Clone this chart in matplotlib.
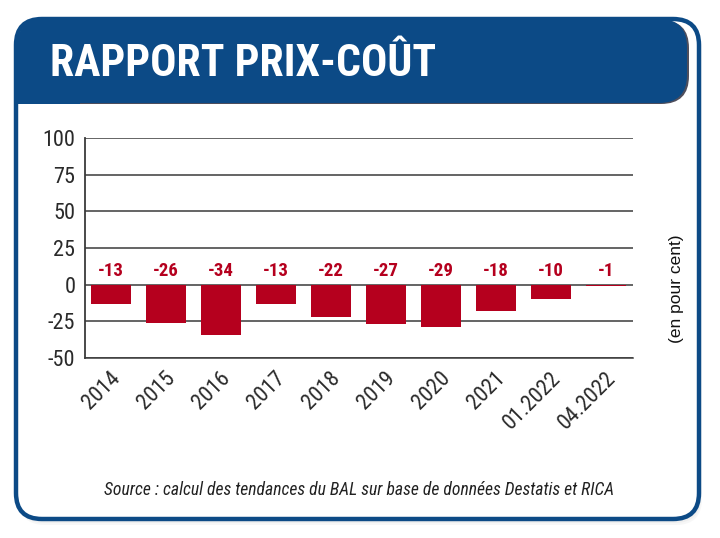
import numpy as np
import matplotlib
matplotlib.use("Agg")
import matplotlib.pyplot as plt
from matplotlib import font_manager
from matplotlib.patches import FancyBboxPatch, Rectangle
from matplotlib.transforms import ScaledTranslation

# data
categories = ['2014', '2015', '2016', '2017', '2018', '2019', '2020', '2021', '01.2022', '04.2022']
values = [-13, -26, -34, -13, -22, -27, -29, -18, -10, -1]
yticks = [-50, -25, 0, 25, 50, 75, 100]

title = 'RAPPORT PRIX-COÛT'
unit_label = '(en pour cent)'
source = 'Source : calcul des tendances du BAL sur base de données Destatis et RICA'

BLUE = '#0c4a86'
RED = '#b5001e'
GRID = '#3a3a3a'

# pick a condensed font if there is one
names = {f.name for f in font_manager.fontManager.ttflist}
cond = 'DejaVu Sans'
for n in ['Roboto Condensed', 'DejaVu Sans Condensed', 'Liberation Sans Narrow', 'Roboto']:
    if n in names:
        cond = n
        break

W, H = 720, 538
fig = plt.figure(figsize=(W / 100, H / 100), dpi=100)
inch = fig.dpi_scale_trans


def box(x0, y0, x1, y1):
    # pixel coords, top-left origin -> inches
    return (x0 / 100, (H - y1) / 100), (x1 - x0) / 100, (y1 - y0) / 100


# soft shadow
for d, a in [(6, 0.25), (4, 0.35), (2, 0.45)]:
    xy, w, h = box(16 + d / 2, 19 + d, 699 + d / 2, 519 + d)
    fig.patches.append(FancyBboxPatch(xy, w, h, boxstyle='round,pad=0,rounding_size=0.26',
                                      transform=inch, facecolor='#e2e2e2', edgecolor='none',
                                      alpha=a, zorder=0))

# white card
xy, w, h = box(16, 19, 699, 519)
fig.patches.append(FancyBboxPatch(xy, w, h, boxstyle='round,pad=0,rounding_size=0.26',
                                  transform=inch, facecolor='white', edgecolor='none', zorder=1))

# header
xy, w, h = box(17, 19, 687, 103)
fig.patches.append(FancyBboxPatch((xy[0] + 0.02, xy[1] - 0.01), w, h,
                                  boxstyle='round,pad=0,rounding_size=0.28',
                                  transform=inch, facecolor='#222233', edgecolor='none',
                                  alpha=0.8, zorder=2))
fig.patches.append(FancyBboxPatch(xy, w, h, boxstyle='round,pad=0,rounding_size=0.28',
                                  transform=inch, facecolor=BLUE, edgecolor='none', zorder=3))
xy, w, h = box(17, 60, 80, 104)
fig.patches.append(Rectangle(xy, w, h, transform=inch, facecolor=BLUE, edgecolor='none', zorder=3))

# card border
xy, w, h = box(16, 19, 699, 519)
fig.patches.append(FancyBboxPatch(xy, w, h, boxstyle='round,pad=0,rounding_size=0.26',
                                  transform=inch, facecolor='none', edgecolor=BLUE,
                                  linewidth=3.2, zorder=4))

fig.text(50 / W, 1 - 76 / H, title, color='white', fontsize=31.5, fontweight='bold',
         family=cond, ha='left', va='baseline', zorder=5)

# chart
ax = fig.add_axes([85 / W, 1 - 358 / H, 548 / W, 220 / H], zorder=6)
ax.patch.set_alpha(0)
ax.set_axisbelow(True)
x = np.arange(len(categories))
ax.bar(x, values, width=0.73, color=RED, zorder=3)

ax.set_xlim(-0.47, 9.49)
ax.set_ylim(-50, 100)
ax.set_yticks(yticks)
ax.set_yticklabels([str(t) for t in yticks], family=cond, fontsize=16, color='#2a2a2a')
ax.yaxis.grid(True, color=GRID, linewidth=1.1)
ax.tick_params(axis='y', length=0, pad=7)
ax.tick_params(axis='x', length=0, pad=7)

for s in ['top', 'right']:
    ax.spines[s].set_visible(False)
ax.spines['left'].set_color(GRID)
ax.spines['left'].set_linewidth(1.3)
ax.spines['bottom'].set_color(GRID)
ax.spines['bottom'].set_linewidth(1.1)

ax.set_xticks(x)
ax.set_xticklabels(categories, rotation=45, ha='right', rotation_mode='anchor',
                   family=cond, fontsize=16, color='#2a2a2a')
offset = ScaledTranslation(-1 / 100, 0, fig.dpi_scale_trans)
for lab in ax.get_xticklabels():
    lab.set_transform(lab.get_transform() + offset)

for xi, v in zip(x, values):
    ax.text(xi, 3.5, str(v), ha='center', va='bottom', color=RED,
            fontsize=13.5, fontweight='bold', family=cond, zorder=4)

fig.text(677 / W, 1 - 289 / H, unit_label, rotation=90, ha='center', va='center',
         fontsize=12.5, color='#111111', family='Liberation Sans', zorder=6)

fig.text(359 / W, 1 - 495 / H, source, ha='center', va='baseline', fontsize=12.7,
         style='italic', color='#222222', family=cond, zorder=6)

fig.savefig('out.png', dpi=100)
